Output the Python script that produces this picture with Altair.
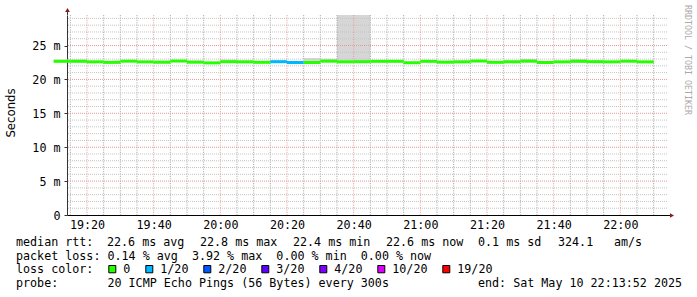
import altair as alt
import pandas as pd

# ---------------- data ----------------
times = ["19:10", "19:15", "19:20", "19:25", "19:30", "19:35", "19:40", "19:45",
         "19:50", "19:55", "20:00", "20:05", "20:10", "20:15", "20:20", "20:25",
         "20:30", "20:35", "20:40", "20:45", "20:50", "20:55", "21:00", "21:05",
         "21:10", "21:15", "21:20", "21:25", "21:30", "21:35", "21:40", "21:45",
         "21:50", "21:55", "22:00", "22:05"]
median_ms = [22.67, 22.67, 22.59, 22.52, 22.69, 22.59, 22.54, 22.71,
             22.54, 22.44, 22.61, 22.59, 22.52, 22.61, 22.49, 22.49,
             22.69, 22.59, 22.61, 22.67, 22.67, 22.46, 22.67, 22.54,
             22.59, 22.71, 22.52, 22.59, 22.69, 22.49, 22.59, 22.67,
             22.61, 22.59, 22.69, 22.59]
smoke_lo_ms = [22.55, 22.55, 22.50, 22.30, 22.55, 22.50, 22.35, 22.55,
               22.45, 22.35, 22.50, 22.50, 22.40, 22.50, 22.40, 22.40,
               22.55, 22.45, 22.45, 22.55, 22.55, 22.35, 22.55, 22.45,
               22.45, 22.60, 22.40, 22.45, 22.55, 22.40, 22.45, 22.50,
               22.50, 22.45, 22.55, 22.45]
smoke_hi_ms = [22.95, 22.95, 22.75, 22.60, 22.80, 22.70, 22.60, 22.80,
               22.80, 22.55, 22.95, 22.80, 22.65, 22.80, 22.60, 23.15,
               23.05, 29.50, 29.50, 22.75, 22.75, 22.55, 22.75, 22.75,
               22.80, 22.80, 22.60, 22.85, 23.00, 22.65, 22.70, 23.00,
               22.85, 22.65, 22.80, 22.65]
loss_pings = [0, 0, 0, 0, 0, 0, 0, 0,
              0, 0, 0, 0, 0, 1, 1, 0,
              0, 0, 0, 0, 0, 0, 0, 0,
              0, 0, 0, 0, 0, 0, 0, 0,
              0, 0, 0, 0]

loss_levels = ["0", "1/20", "2/20", "3/20", "4/20", "10/20", "19/20"]
loss_colors = ["#26ff00", "#00b8ff", "#0059ff", "#5e00ff", "#7e00ff", "#dd00ff", "#ff0000"]

y_ticks = [0, 5, 10, 15, 20, 25]
x_tick_labels = ["19:20", "19:40", "20:00", "20:20", "20:40", "21:00", "21:20", "21:40", "22:00"]

stats_line1 = [("median rtt:", 16), ("22.6 ms avg", 107), ("22.8 ms max", 200),
               ("22.4 ms min", 293), ("22.6 ms now", 386), ("0.1 ms sd", 478),
               ("324.1", 558), ("am/s", 614)]
stats_line2 = "packet loss: 0.14 % avg  3.92 % max  0.00 % min  0.00 % now"
probe_text = "probe:       20 ICMP Echo Pings (56 Bytes) every 300s"
end_text = "end: Sat May 10 22:13:52 2025"

# ---------------- layout constants ----------------
PL, PT, W, H = 67, 15, 600, 200
MONO = "DejaVu Sans Mono"
FS = 11.7
CW = 7.0


def to_min(t):
    h, m = map(int, t.split(":"))
    return (h - 19) * 60 + m


def nb(s):
    return s.replace(" ", "\u00a0")


df = pd.DataFrame({
    "start": [to_min(t) for t in times],
    "median": median_ms,
    "lo": smoke_lo_ms,
    "hi": smoke_hi_ms,
    "loss": ["0" if n == 0 else f"{n}/20" for n in loss_pings],
})
df["end"] = df["start"] + 5

x_scale = alt.Scale(domain=[14, 194], nice=False, zero=False)
y_scale = alt.Scale(domain=[0, 29.5], nice=False, zero=False)

x_axis = alt.Axis(
    values=[to_min(t) for t in x_tick_labels],
    labelExpr="(floor(datum.value/60)+19) + ':' + (datum.value%60 < 10 ? '0' : '') + (datum.value%60)",
    ticks=False, tickSize=0, grid=False, domainColor="#000000", domainWidth=1,
    labelFont=MONO, labelFontSize=FS, labelColor="#000000", labelPadding=13,
    labelBaseline="alphabetic", labelFlush=False, labelOverlap=False, title="",
)
y_axis = alt.Axis(
    values=y_ticks,
    labelExpr="datum.value == 0 ? '0\u00a0' : datum.value + ' m'",
    ticks=True, tickSize=3, tickColor="#333333", grid=False,
    domainColor="#333333", domainWidth=1,
    labelFont=MONO, labelFontSize=FS, labelColor="#000000", labelPadding=4,
    labelAlign="right", labelBaseline="middle", labelFlush=False, labelOverlap=False, title="",
)


def X(f):
    return alt.X(f, type="quantitative", scale=x_scale, axis=x_axis)


def Y(f):
    return alt.Y(f, type="quantitative", scale=y_scale, axis=y_axis)


minor_x = [m for m in range(15, 194, 5) if m % 20 != 0]
major_x = [m for m in range(20, 194, 20)]
minor_y = [v for v in range(1, 30) if v % 5 != 0]
major_y = [5, 10, 15, 20, 25]

base = alt.Chart(df)

smoke = base.mark_rect(color="#d6d6d6").encode(x=X("start"), x2="end", y=Y("lo"), y2="hi")

grid_minor_v = alt.Chart(pd.DataFrame({"g": minor_x})).mark_rule(
    color="#8c8c8c", strokeDash=[1.2, 1.2], strokeWidth=1, opacity=0.7).encode(x=X("g"))
grid_major_v = alt.Chart(pd.DataFrame({"g": major_x})).mark_rule(
    color="#e07070", strokeDash=[1.2, 1.2], strokeWidth=1, opacity=0.6).encode(x=X("g"))
grid_minor_h = alt.Chart(pd.DataFrame({"g": minor_y})).mark_rule(
    color="#c4c4c4", strokeDash=[1, 1], strokeWidth=1).encode(y=Y("g"))
grid_major_h = alt.Chart(pd.DataFrame({"g": major_y})).mark_rule(
    color="#e29a9a", strokeDash=[1, 1], strokeWidth=1).encode(y=Y("g"))

median_line = base.mark_rule(strokeWidth=3, strokeCap="butt").encode(
    x=X("start"), x2="end", y=Y("median"),
    color=alt.Color("loss:N", scale=alt.Scale(domain=loss_levels, range=loss_colors), legend=None),
)

one = pd.DataFrame({"t": [""]})

# axis extensions and arrows
y_ext = alt.Chart(one).mark_rule(color="#333333", strokeWidth=1).encode(
    x=alt.value(0.5), y=alt.value(-3), y2=alt.value(0))
x_ext = alt.Chart(one).mark_rule(color="#000000", strokeWidth=1).encode(
    x=alt.value(600), x2=alt.value(603), y=alt.value(200.5))
y_arrow = alt.Chart(one).mark_point(shape="triangle-up", filled=True, size=22, color="#8b1a1a", opacity=1).encode(
    x=alt.value(0.5), y=alt.value(-5))
x_arrow = alt.Chart(one).mark_point(shape="triangle-right", filled=True, size=22, color="#8b1a1a", opacity=1).encode(
    x=alt.value(605), y=alt.value(200.5))


def txt(s, gx, gy, font=MONO, size=FS, color="#000000", **kw):
    return alt.Chart(pd.DataFrame({"t": [nb(s)]})).mark_text(
        font=font, fontSize=size, color=color, **kw
    ).encode(text="t:N", x=alt.value(gx - PL), y=alt.value(gy - PT))


texts = []
texts.append(txt("Seconds", 11, 113, font="DejaVu Sans", size=11.7, angle=270,
                 align="center", baseline="middle"))
texts.append(txt("RRDTOOL / TOBI OETIKER", 687, 5, size=8.3, color="#aaaaaa", angle=90,
                 align="left", baseline="middle"))

B1, B2, B3, B4 = 245.5, 259.5, 273.3, 287.3
for s, gx in stats_line1:
    texts.append(txt(s, gx, B1, align="left", baseline="alphabetic"))
texts.append(txt(stats_line2, 16, B2, align="left", baseline="alphabetic"))
texts.append(txt("loss color:", 16, B3, align="left", baseline="alphabetic"))
texts.append(txt(probe_text, 16, B4, align="left", baseline="alphabetic"))
texts.append(txt(end_text, 478, B4, align="left", baseline="alphabetic"))

boxes = []
box_left = 108.3
for lvl, col in zip(loss_levels, loss_colors):
    boxes.append(alt.Chart(one).mark_rect(fill=col, stroke="#000000", strokeWidth=1).encode(
        x=alt.value(box_left + 0.5 - PL), x2=alt.value(box_left + 7.5 - PL),
        y=alt.value(265.5 - PT), y2=alt.value(272.8 - PT)))
    lab_x = box_left + 15
    texts.append(txt(lvl, lab_x, B3, align="left", baseline="alphabetic"))
    box_left = lab_x + len(lvl) * CW + 15

chart = alt.layer(
    smoke, grid_minor_v, grid_minor_h, grid_major_v, grid_major_h, median_line,
    y_ext, x_ext, y_arrow, x_arrow, *boxes, *texts
).properties(
    width=W, height=H,
    autosize=alt.AutoSizeParams(type="none"),
    padding={"left": PL, "top": PT, "right": 697 - PL - W, "bottom": 297 - PT - H},
    background="#ffffff",
).configure_view(stroke="transparent")

chart.save("out.html", embed_options={"renderer": "svg", "actions": False})
